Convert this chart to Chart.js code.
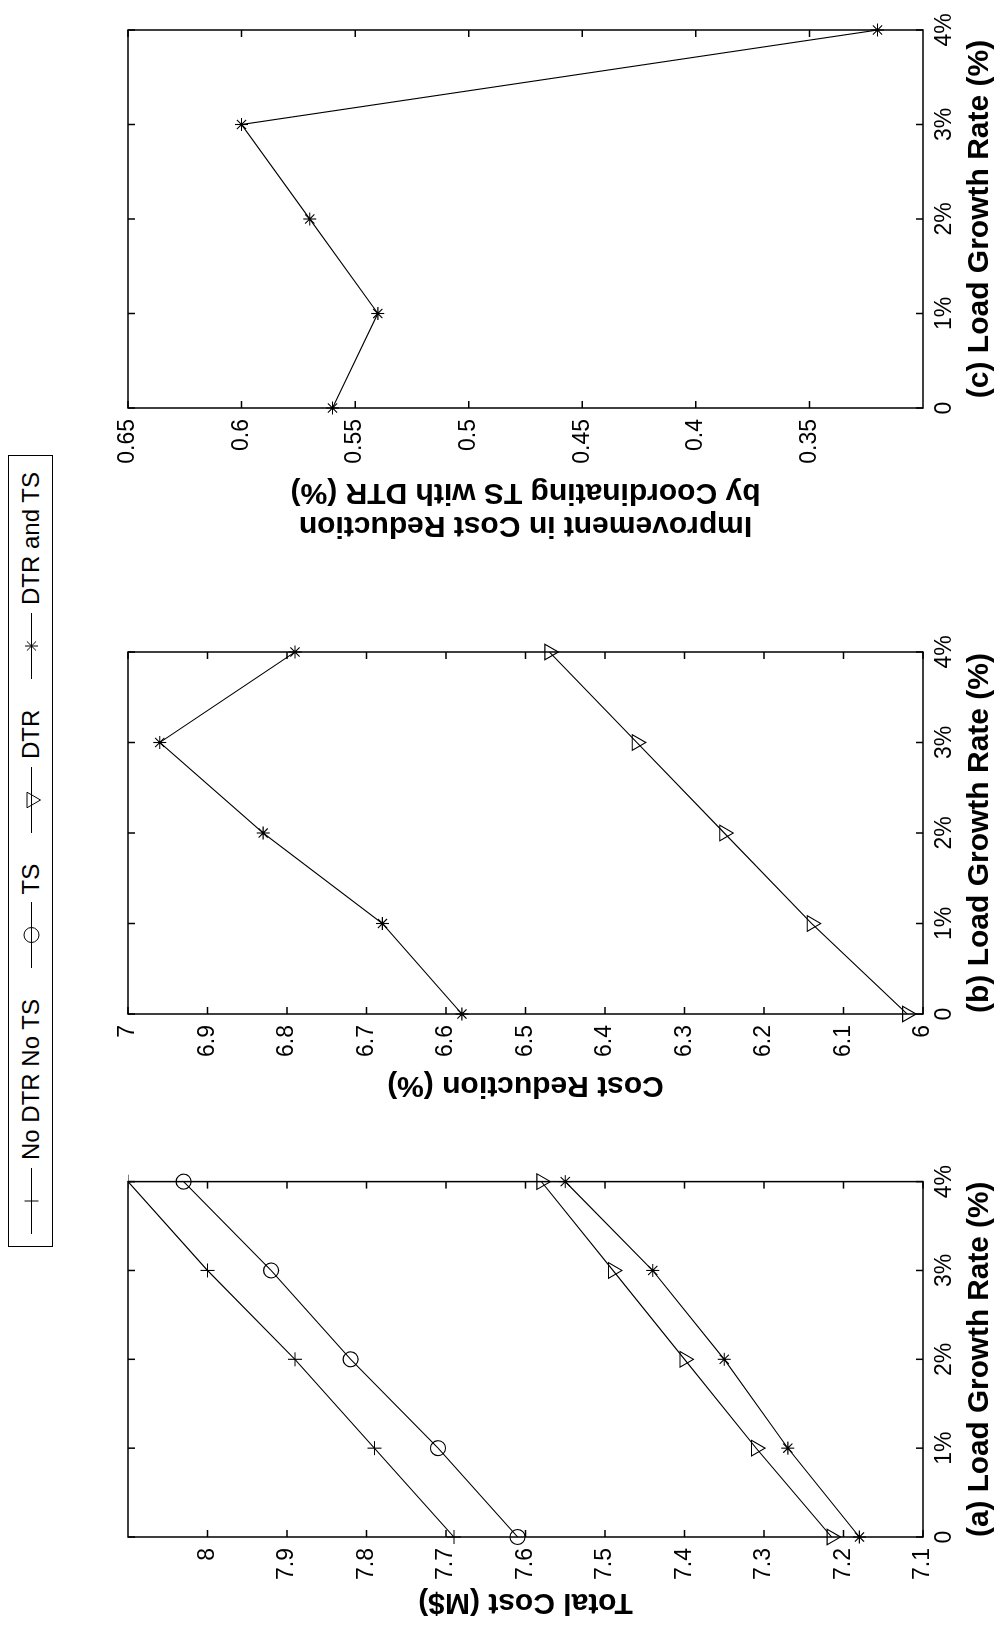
<!DOCTYPE html>
<html>
<head>
<meta charset="utf-8">
<script src="https://cdn.jsdelivr.net/npm/chart.js@4.4.1/dist/chart.umd.min.js"></script>
<style>
  html, body { margin: 0; padding: 0; background: #fff; }
  body { width: 1005px; height: 1637px; overflow: hidden; position: relative; }
  /* the figure is laid out landscape, then turned a quarter turn */
  #figure { position: absolute; left: 0; top: 1637px; width: 1637px; height: 1005px;
            transform-origin: 0 0; transform: rotate(-90deg); background: #fff; }
  #figure canvas.panel { position: absolute; top: 60px; }
  #legend { position: absolute; left: 390px; top: 8px; width: 792px; height: 45px; box-sizing: border-box;
            border: 1.5px solid #000; background: #fff; display: flex; align-items: center;
            justify-content: space-between; padding: 0 16px 0 12px;
            font: 24px 'Liberation Sans', Arial, sans-serif; color: #000; z-index: 2; }
  .item { display: flex; align-items: center; }
  .item canvas { margin-right: 8px; }
</style>
</head>
<body>
<div id="figure">
  <div id="legend"></div>
  <canvas id="chartA" class="panel" width="480" height="945" style="left:0px"></canvas>
  <canvas id="chartB" class="panel" width="530" height="945" style="left:480px"></canvas>
  <canvas id="chartC" class="panel" width="637" height="945" style="left:1000px"></canvas>
</div>
<script>
const growthLabels = ["0", "1%", "2%", "3%", "4%"];
const seriesNames = ["No DTR No TS", "TS", "DTR", "DTR and TS"];

// (a) Total cost (M$)
const costNoDtrNoTs = [7.69, 7.79, 7.89, 8.0, 8.1];
const costTs = [7.61, 7.71, 7.82, 7.92, 8.03];
const costDtr = [7.215, 7.31, 7.40, 7.49, 7.58];
const costDtrTs = [7.18, 7.27, 7.35, 7.44, 7.55];
const costTicks = [7.1, 7.2, 7.3, 7.4, 7.5, 7.6, 7.7, 7.8, 7.9, 8];

// (b) Cost reduction (%)
const reductionDtr = [6.02, 6.14, 6.25, 6.36, 6.47];
const reductionDtrTs = [6.58, 6.68, 6.83, 6.96, 6.79];
const reductionTicks = [6, 6.1, 6.2, 6.3, 6.4, 6.5, 6.6, 6.7, 6.8, 6.9, 7];

// (c) Improvement by coordinating TS with DTR (%)
const improvement = [0.56, 0.54, 0.57, 0.60, 0.32];
const improvementTicks = [0.35, 0.4, 0.45, 0.5, 0.55, 0.6, 0.65];

Chart.defaults.font.family = "'Liberation Sans', Arial, Helvetica, sans-serif";
Chart.defaults.color = "#000";

const markers = {
  "No DTR No TS": { pointStyle: "cross", radius: 7, rotation: 0 },
  "TS": { pointStyle: "circle", radius: 7.5, rotation: 0 },
  "DTR": { pointStyle: "triangle", radius: 9, rotation: 180 },
  "DTR and TS": { pointStyle: "star", radius: 6.5, rotation: 0 },
};

function series(name, data) {
  const m = markers[name];
  return {
    label: name,
    data: data,
    borderColor: "#000",
    borderWidth: 1.1,
    tension: 0,
    fill: false,
    pointStyle: m.pointStyle,
    pointRadius: m.radius,
    pointHoverRadius: m.radius,
    pointRotation: m.rotation,
    pointBorderColor: "#000",
    pointBackgroundColor: "rgba(0,0,0,0)",
    pointBorderWidth: 1.1,
  };
}

// box with inward ticks on all four sides, like the original axes
const TICK = 7;
const framePlugin = {
  id: "frame",
  beforeDatasetsDraw(chart) {
    const { ctx, chartArea, scales } = chart;
    const { left, top, right, bottom } = chartArea;
    ctx.save();
    ctx.strokeStyle = "#000";
    ctx.lineWidth = 1.5;
    ctx.beginPath();
    scales.y.ticks.forEach((t) => {
      const py = scales.y.getPixelForValue(t.value);
      ctx.moveTo(left, py); ctx.lineTo(left + TICK, py);
      ctx.moveTo(right, py); ctx.lineTo(right - TICK, py);
    });
    scales.x.ticks.forEach((t, i) => {
      const px = scales.x.getPixelForTick(i);
      ctx.moveTo(px, bottom); ctx.lineTo(px, bottom - TICK);
      ctx.moveTo(px, top); ctx.lineTo(px, top + TICK);
    });
    ctx.stroke();
    ctx.strokeRect(left, top, right - left, bottom - top);
    ctx.restore();
  },
};

function makePanel(id, cfg) {
  new Chart(document.getElementById(id), {
    type: "line",
    data: { labels: growthLabels, datasets: cfg.datasets },
    options: {
      responsive: false,
      animation: false,
      events: [],
      layout: { padding: { top: 68, right: cfg.padRight, left: 0, bottom: 0 } },
      plugins: { legend: { display: false }, tooltip: { enabled: false } },
      scales: {
        x: {
          type: "category",
          offset: false,
          grid: { display: false, drawTicks: false },
          border: { display: false },
          ticks: { padding: 8, maxRotation: 0, autoSkip: false, font: { size: 23 } },
          title: {
            display: true,
            text: cfg.xTitle,
            font: { size: 30, weight: "bold", lineHeight: 1.1 },
            padding: { top: 0, bottom: 8.5 },
          },
          afterFit: (s) => { s.height = 82; },
        },
        y: {
          type: "linear",
          min: cfg.min,
          max: cfg.max,
          grid: { display: false, drawTicks: false },
          border: { display: false },
          ticks: { padding: 11, font: { size: 23 }, callback: (v) => String(v) },
          afterBuildTicks: (s) => { s.ticks = cfg.ticks.map((v) => ({ value: v })); },
          title: {
            display: true,
            text: cfg.yTitle,
            font: { size: 30, weight: "bold", lineHeight: 1.1 },
            padding: { top: cfg.titlePad, bottom: 0 },
          },
          afterFit: (s) => { s.width = cfg.axisWidth; },
        },
      },
    },
    plugins: [framePlugin],
  });
}

makePanel("chartA", {
  datasets: [
    series("No DTR No TS", costNoDtrNoTs),
    series("TS", costTs),
    series("DTR", costDtr),
    series("DTR and TS", costDtrTs),
  ],
  min: 7.1, max: 8.1, ticks: costTicks,
  xTitle: "(a) Load Growth Rate (%)",
  yTitle: "Total Cost (M$)",
  axisWidth: 100, padRight: 17, titlePad: 18.5,
});

makePanel("chartB", {
  datasets: [series("DTR", reductionDtr), series("DTR and TS", reductionDtrTs)],
  min: 6, max: 7, ticks: reductionTicks,
  xTitle: "(b) Load Growth Rate (%)",
  yTitle: "Cost Reduction (%)",
  axisWidth: 143, padRight: 25, titlePad: 55.5,
});

makePanel("chartC", {
  datasets: [series("DTR and TS", improvement)],
  min: 0.3, max: 0.65, ticks: improvementTicks,
  xTitle: "(c) Load Growth Rate (%)",
  yTitle: ["Improvement in Cost Reduction", "by Coordinating TS with DTR (%)"],
  axisWidth: 229, padRight: 30, titlePad: 95.5,
});

// legend: short line with the marker in the middle, then the name
const legendEl = document.getElementById("legend");
seriesNames.forEach((name) => {
  const m = markers[name];
  const item = document.createElement("div");
  item.className = "item";
  const c = document.createElement("canvas");
  c.width = 66; c.height = 26;
  const ctx = c.getContext("2d");
  ctx.strokeStyle = "#000";
  ctx.lineWidth = 1;
  ctx.beginPath(); ctx.moveTo(0, 13.5); ctx.lineTo(66, 13.5); ctx.stroke();
  ctx.fillStyle = "rgba(0,0,0,0)";
  Chart.helpers.drawPoint(ctx, { pointStyle: m.pointStyle, radius: m.radius, rotation: m.rotation, borderWidth: 1 }, 33, 13.5);
  const span = document.createElement("span");
  span.textContent = name;
  item.appendChild(c);
  item.appendChild(span);
  legendEl.appendChild(item);
});
</script>
</body>
</html>
